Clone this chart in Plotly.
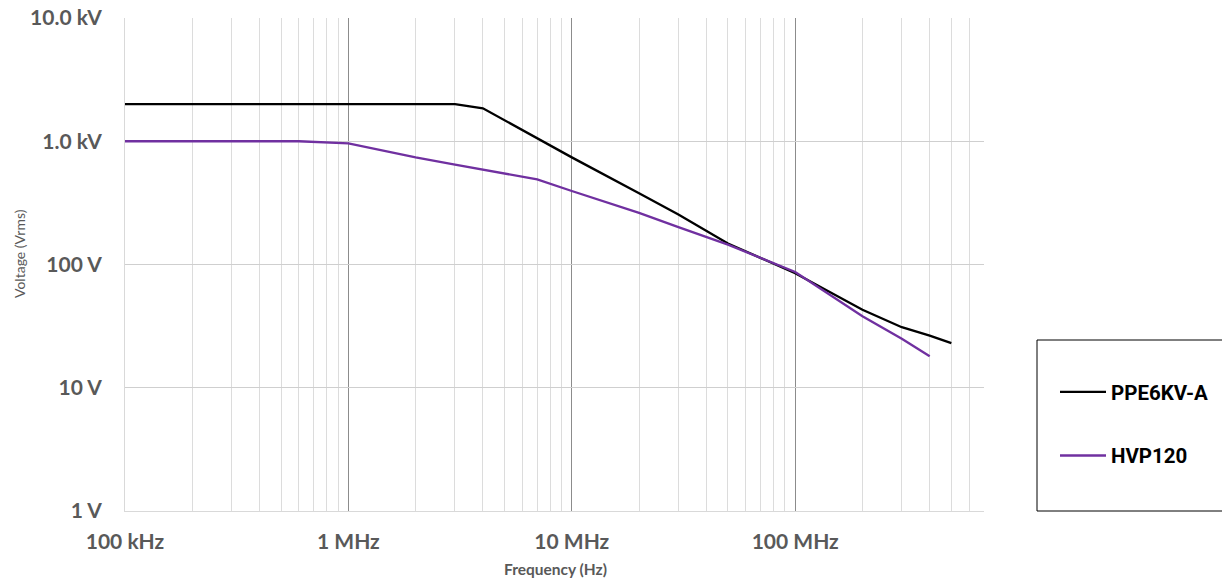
import plotly.graph_objects as go

# Data
freq_ppe = [1e5, 3e6, 4e6, 1e7, 2e7, 3e7, 5e7, 1e8, 2e8, 3e8, 4e8, 5e8]
volt_ppe = [2000, 2000, 1850, 740, 378, 255, 148, 85, 43, 31, 26.5, 23]

freq_hvp = [1e5, 6e5, 1e6, 2e6, 3e6, 4e6, 5e6, 7e6, 1e7, 2e7, 3e7, 5e7, 1e8, 2e8, 3e8, 4e8]
volt_hvp = [1000, 1000, 960, 740, 647, 590, 553, 490, 395, 262, 201, 145, 87, 38, 25, 18]

y_tickvals = [1, 10, 100, 1000, 10000]
y_ticktext = ["1 V", "10 V", "100 V", "1.0 kV", "10.0 kV"]
x_tickvals = [1e5, 1e6, 1e7, 1e8]
x_ticktext = ["100 kHz", "1 MHz", "10 MHz", "100 MHz"]

W, H = 1230, 578
OFF = 7  # page body offset
L, R, T, B = 124, 983, 17, 510  # plot area in screen pixels


def px(X):
    return (X - L) / (R - L)


def py(Y):
    return (B - Y) / (B - T)


fig = go.Figure()
fig.add_trace(go.Scatter(x=freq_ppe, y=volt_ppe, mode="lines", name="PPE6KV-A",
                         legendgroup="a", line=dict(color="#000000", width=2.3)))
fig.add_trace(go.Scatter(x=freq_hvp, y=volt_hvp, mode="lines", name="HVP120",
                         legendgroup="b", line=dict(color="#7030a0", width=2.3)))

tick_font = dict(family="Lato, 'Open Sans', sans-serif", size=21, color="#595959", weight="bold")

fig.update_layout(
    width=W, height=H,
    margin=dict(l=L - OFF, r=W - R + OFF, t=T - OFF, b=H - B + OFF, pad=0),
    paper_bgcolor="white", plot_bgcolor="white",
    showlegend=True,
    legend=dict(x=px(1054), y=py(371), xanchor="left", yanchor="top",
                font=dict(family="Roboto", size=20.5, color="#000000", weight="bold"),
                bgcolor="rgba(0,0,0,0)", borderwidth=0, tracegroupgap=34,
                itemwidth=46),
    xaxis=dict(type="log", range=[5, 8.845098], tickvals=x_tickvals, ticktext=x_ticktext,
               tickfont=tick_font, showgrid=True, gridcolor="#8c8c8c", gridwidth=1,
               showline=True, linecolor="#d9d9d9", zeroline=False, ticks="outside",
               ticklen=12, tickcolor="rgba(0,0,0,0)", ticklabeloverflow="allow",
               minor=dict(dtick="D1", showgrid=True, gridcolor="#dcdcdc", gridwidth=1, ticks=""),
               automargin=False),
    yaxis=dict(type="log", range=[0, 4], tickvals=y_tickvals, ticktext=y_ticktext,
               tickfont=tick_font, showgrid=True, gridcolor="#cfcfcf", gridwidth=1,
               showline=True, linecolor="#d9d9d9", zeroline=False, ticks="outside",
               ticklen=18, tickcolor="rgba(0,0,0,0)", ticklabeloverflow="allow",
               automargin=False),
    shapes=[dict(type="rect", xref="paper", yref="paper",
                 x0=px(1036), x1=px(1245), y0=py(510), y1=py(339),
                 line=dict(color="#000000", width=1), fillcolor="rgba(0,0,0,0)", layer="above")],
    annotations=[
        dict(text="Voltage (Vrms)", xref="paper", yref="paper", x=px(18), y=py(253),
             xanchor="center", yanchor="middle",
             showarrow=False, textangle=-90,
             font=dict(family="Lato, 'Open Sans', sans-serif", size=14, color="#595959")),
        dict(text="Frequency (Hz)", xref="paper", yref="paper", x=px(554), y=py(568),
             xanchor="center", yanchor="middle",
             showarrow=False,
             font=dict(family="Lato, 'Open Sans', sans-serif", size=15.5, color="#595959", weight="bold")),
    ],
)

fig.write_html("out.html")
